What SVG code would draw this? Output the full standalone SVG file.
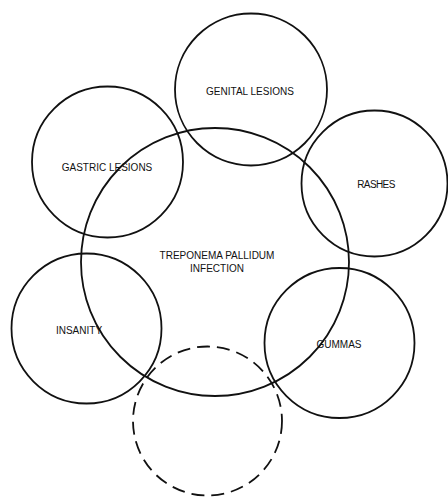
<svg xmlns="http://www.w3.org/2000/svg" width="448" height="497" viewBox="0 0 448 497">
<style>
.c{fill:none;stroke:#111;stroke-width:1.8}
.d{fill:none;stroke:#111;stroke-width:1.8;stroke-dasharray:13 7}
.t{font-family:"Liberation Sans",Arial,sans-serif;font-size:10px;fill:#111;text-anchor:middle}
</style>
<rect width="448" height="497" fill="#fff"/>
<g id="connectors"/>
<g id="infection">
<circle class="c" cx="215" cy="262" r="134"/>
<text class="t" x="217" y="258.5">TREPONEMA PALLIDUM</text>
<text class="t" x="217" y="271.5">INFECTION</text>
</g>
<g id="genital">
<circle class="c" cx="251" cy="89.5" r="76"/>
<text class="t" x="250" y="94.5">GENITAL LESIONS</text>
</g>
<g id="gastric">
<circle class="c" cx="107.5" cy="162" r="75.5"/>
<text class="t" x="107" y="170.5">GASTRIC LESIONS</text>
</g>
<g id="rashes">
<circle class="c" cx="374.5" cy="183.5" r="73"/>
<text class="t" x="376" y="187.5" style="letter-spacing:-0.6px">RASHES</text>
</g>
<g id="insanity">
<circle class="c" cx="86.5" cy="328.5" r="75"/>
<text class="t" x="79" y="333.5">INSANITY</text>
</g>
<g id="gummas">
<circle class="c" cx="339.5" cy="343" r="75"/>
<text class="t" x="339" y="347.5">GUMMAS</text>
</g>
<g id="unknown">
<circle class="d" cx="207.5" cy="421" r="74.5"/>
</g>
</svg>
